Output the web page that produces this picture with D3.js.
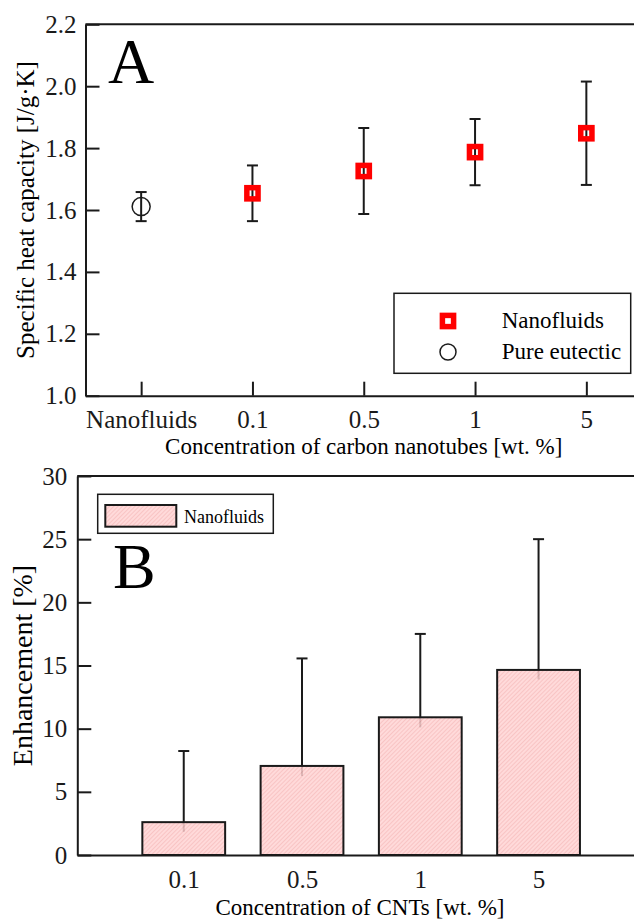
<!DOCTYPE html>
<html>
<head>
    <title>Specific heat capacity and enhancement</title>
    <script src="https://d3js.org/d3.v7.min.js"></script>
    <style>
        body { margin: 0; background: #fff; }
        svg { display: block; font-family: "Liberation Serif", "Times New Roman", serif; }
        .axis path, .axis line { stroke: #1a1a1a; stroke-width: 2; }
        .axis text { fill: #1a1a1a; font-family: "Liberation Serif", "Times New Roman", serif; }
    </style>
</head>
<body>
<div class="chart"></div>
<script>
    // panel A data
    const categoriesA = ["Nanofluids", "0.1", "0.5", "1", "5"];
    const eutecticCat = ["Nanofluids"];
    const eutecticValue = [1.611];
    const eutecticErr = [0.047];
    const nanoCats = ["0.1", "0.5", "1", "5"];
    const nanoValue = [1.654, 1.726, 1.787, 1.848];
    const nanoErr = [0.09, 0.139, 0.107, 0.167];
    const yTicksA = [1.0, 1.2, 1.4, 1.6, 1.8, 2.0, 2.2];

    // panel B data
    const categoriesB = ["0.1", "0.5", "1", "5"];
    const enhancement = [2.6, 7.05, 10.9, 14.65];
    const errUpper = [8.23, 15.56, 17.5, 25.0];
    const errLower = [1.84, 6.25, 10.1, 13.9];
    const yTicksB = [0, 5, 10, 15, 20, 25, 30];

    const svg = d3.select(".chart").append("svg").attr("width", 634).attr("height", 920);
    svg.append("rect").attr("width", 634).attr("height", 920).attr("fill", "#fff");

    const defs = svg.append("defs");
    const pat = defs.append("pattern")
        .attr("id", "hatch")
        .attr("patternUnits", "userSpaceOnUse")
        .attr("width", 3).attr("height", 3)
        .attr("patternTransform", "rotate(45)");
    pat.append("rect").attr("width", 3).attr("height", 3).attr("fill", "#ffd3d3");
    pat.append("line").attr("x1", 0).attr("y1", 0).attr("x2", 0).attr("y2", 3)
        .attr("stroke", "#f3a9a9").attr("stroke-width", 1.2);

    // ---------- panel A ----------
    const a = {left: 85.5, right: 642, top: 24.3, bottom: 395.7};
    const xA = d3.scalePoint().domain(categoriesA).range([a.left, a.right]).padding(0.5);
    const yA = d3.scaleLinear().domain([1.0, 2.2]).range([a.bottom, a.top]);

    const gA = svg.append("g");

    gA.append("g").attr("class", "axis")
        .attr("transform", "translate(0," + a.bottom + ")")
        .call(d3.axisBottom(xA).tickSizeInner(-14).tickSizeOuter(0))
        .call(g => g.selectAll("text").attr("dy", null).attr("y", 32).style("font-size", "25px"));

    gA.append("g").attr("class", "axis")
        .attr("transform", "translate(" + a.left + ",0)")
        .call(d3.axisLeft(yA).tickValues(yTicksA).tickFormat(d3.format(".1f")).tickSizeInner(-14).tickSizeOuter(0).tickPadding(9))
        .call(g => g.selectAll("text").style("font-size", "25px"));

    gA.append("line")
        .attr("x1", a.left).attr("x2", a.right)
        .attr("y1", a.top).attr("y2", a.top)
        .attr("stroke", "#1a1a1a").attr("stroke-width", 2);

    gA.append("text")
        .attr("x", (a.left + a.right) / 2).attr("y", 454)
        .attr("text-anchor", "middle").style("font-size", "23px")
        .text("Concentration of carbon nanotubes [wt. %]");

    gA.append("text")
        .attr("transform", "translate(33.5," + (a.top + a.bottom) / 2 + ") rotate(-90)")
        .attr("text-anchor", "middle").style("font-size", "25px")
        .text("Specific heat capacity [J/g\u00B7K]");

    gA.append("text").attr("x", 108).attr("y", 83)
        .style("font-size", "64px").text("A");

    function errorBars(g, cats, vals, errs) {
        cats.forEach(function(c, i) {
            const x = xA(c), y1 = yA(vals[i] - errs[i]), y2 = yA(vals[i] + errs[i]);
            g.append("line").attr("x1", x).attr("x2", x).attr("y1", y1).attr("y2", y2)
                .attr("stroke", "#1a1a1a").attr("stroke-width", 2);
            [y1, y2].forEach(function(y) {
                g.append("line").attr("x1", x - 5.5).attr("x2", x + 5.5).attr("y1", y).attr("y2", y)
                    .attr("stroke", "#1a1a1a").attr("stroke-width", 2);
            });
        });
    }
    errorBars(gA, eutecticCat, eutecticValue, eutecticErr);
    errorBars(gA, nanoCats, nanoValue, nanoErr);

    gA.selectAll(".eut").data(eutecticCat).enter().append("circle")
        .attr("cx", d => xA(d)).attr("cy", (d, i) => yA(eutecticValue[i])).attr("r", 9)
        .attr("fill", "none").attr("stroke", "#1a1a1a").attr("stroke-width", 1.5);

    gA.selectAll(".nano").data(nanoCats).enter().append("rect")
        .attr("x", d => xA(d) - 5.6).attr("y", (d, i) => yA(nanoValue[i]) - 5.6)
        .attr("width", 11.2).attr("height", 11.2)
        .attr("fill", "none").attr("stroke", "#ff0000").attr("stroke-width", 5.5);

    // legend A
    const legA = gA.append("g");
    legA.append("rect").attr("x", 394).attr("y", 293.3).attr("width", 236.7).attr("height", 80)
        .attr("fill", "#fff").attr("stroke", "#1a1a1a").attr("stroke-width", 1.5);
    legA.append("rect").attr("x", 448 - 5.6).attr("y", 321 - 5.6).attr("width", 11.2).attr("height", 11.2)
        .attr("fill", "none").attr("stroke", "#ff0000").attr("stroke-width", 5.5);
    legA.append("circle").attr("cx", 448).attr("cy", 352).attr("r", 8)
        .attr("fill", "none").attr("stroke", "#1a1a1a").attr("stroke-width", 1.5);
    legA.append("text").attr("x", 501.7).attr("y", 328.3).style("font-size", "23px").text("Nanofluids");
    legA.append("text").attr("x", 501.7).attr("y", 359).style("font-size", "23px").text("Pure eutectic");

    // ---------- panel B ----------
    const b = {left: 77.3, right: 645, top: 476, bottom: 855};
    const xB = d3.scaleLinear().domain([-0.9, 3.9]).range([b.left, b.right]);
    const step = xB(1) - xB(0);
    const barW = step * 0.70;
    const yB = d3.scaleLinear().domain([0, 30]).range([b.bottom, b.top]);

    const gB = svg.append("g");

    // error bars behind the bars
    categoriesB.forEach(function(c, i) {
        const x = xB(i);
        gB.append("line").attr("x1", x).attr("x2", x)
            .attr("y1", yB(errLower[i])).attr("y2", yB(errUpper[i]))
            .attr("stroke", "#1a1a1a").attr("stroke-width", 2);
        gB.append("line").attr("x1", x - 5.5).attr("x2", x + 5.5)
            .attr("y1", yB(errUpper[i])).attr("y2", yB(errUpper[i]))
            .attr("stroke", "#1a1a1a").attr("stroke-width", 2);
    });

    gB.selectAll(".bar").data(enhancement).enter().append("rect")
        .attr("x", (d, i) => xB(i) - barW / 2).attr("y", d => yB(d))
        .attr("width", barW).attr("height", d => yB(0) - yB(d))
        .attr("fill", "url(#hatch)").attr("fill-opacity", 0.85)
        .attr("stroke", "#1a1a1a").attr("stroke-width", 2);

    gB.append("g").attr("class", "axis")
        .attr("transform", "translate(0," + b.bottom + ")")
        .call(d3.axisBottom(xB).tickValues(d3.range(categoriesB.length)).tickFormat(i => categoriesB[i]).tickSize(0).tickSizeOuter(0))
        .call(g => g.selectAll("text").attr("dy", null).attr("y", 33.3).style("font-size", "25px"));

    gB.append("g").attr("class", "axis")
        .attr("transform", "translate(" + b.left + ",0)")
        .call(d3.axisLeft(yB).tickValues(yTicksB).tickSizeInner(-14).tickSizeOuter(0).tickPadding(10))
        .call(g => g.selectAll("text").style("font-size", "25px"));

    gB.append("line")
        .attr("x1", b.left).attr("x2", b.right)
        .attr("y1", b.top).attr("y2", b.top)
        .attr("stroke", "#1a1a1a").attr("stroke-width", 2);

    gB.append("text")
        .attr("x", 360).attr("y", 915)
        .attr("text-anchor", "middle").style("font-size", "23px")
        .text("Concentration of CNTs [wt. %]");

    gB.append("text")
        .attr("transform", "translate(31.5," + (b.top + b.bottom) / 2 + ") rotate(-90)")
        .attr("text-anchor", "middle").style("font-size", "28px")
        .text("Enhancement [%]");

    gB.append("text").attr("x", 113).attr("y", 588)
        .style("font-size", "64px").text("B");

    // legend B
    const legB = gB.append("g");
    legB.append("rect").attr("x", 97.7).attr("y", 494.3).attr("width", 175.6).attr("height", 39)
        .attr("fill", "#fff").attr("stroke", "#1a1a1a").attr("stroke-width", 1.5);
    legB.append("rect").attr("x", 105.3).attr("y", 505).attr("width", 71).attr("height", 21.7)
        .attr("fill", "url(#hatch)").attr("fill-opacity", 0.85)
        .attr("stroke", "#1a1a1a").attr("stroke-width", 2);
    legB.append("text").attr("x", 184).attr("y", 522.7).style("font-size", "18px").text("Nanofluids");
</script>
</body>
</html>
